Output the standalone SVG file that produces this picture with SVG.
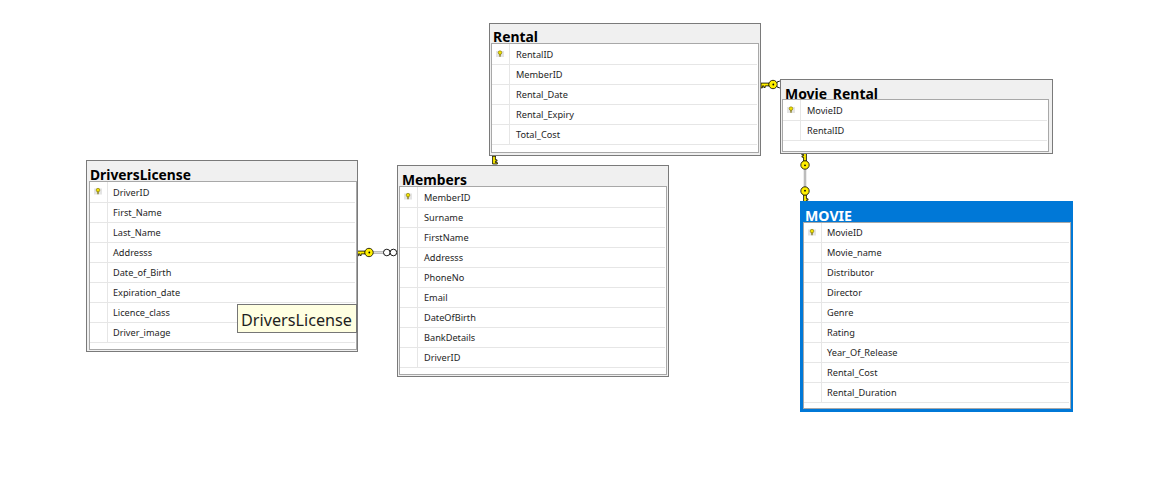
<svg xmlns="http://www.w3.org/2000/svg" width="1160" height="477" viewBox="0 0 1160 477">
<defs>
<style>
.outer{fill:#F0F0F0;stroke:#7A7A7A;stroke-width:1}
.inner{fill:#FFFFFF;stroke:#A8A8A8;stroke-width:1}
.sep{stroke:#E6E6E6;stroke-width:1}
.title{font-family:"Noto Sans","Open Sans",sans-serif;font-weight:bold;font-size:15px;fill:#000}
.col{font-family:"Noto Sans","Open Sans",sans-serif;font-size:9.2px;fill:#1E1E1E}
.pkbg{fill:#E4E4E4}
.pk{fill:#F2E200;stroke:#7A6E00;stroke-width:0.6}
.dbl{stroke:#A0A0A0;stroke-width:2.4;fill:none}
.dblc{stroke:#FFFFFF;stroke-width:0.6;fill:none}
.inf{fill:#FFFFFF;stroke:#000;stroke-width:0.9}
</style>
<g id="key">
<path d="M-3.8,-1.4 L-12,-1.4 L-12,3.4 L-10.6,3.4 L-10.6,1.4 L-9.2,1.4 L-9.2,3 L-7.8,3 L-7.8,1.4 L-3.8,1.4 Z" fill="#FFEF00" stroke="#000" stroke-width="0.8"/>
<circle cx="0" cy="0" r="4.2" fill="#FFEF00" stroke="#000" stroke-width="0.8"/>
<circle cx="0.3" cy="0" r="0.9" fill="#000"/>
</g>
<g id="pkicon">
<rect class="pkbg" x="-4" y="-3" width="8" height="6"/>
<line x1="0" y1="-0.5" x2="0" y2="2.8" stroke="#7A6E00" stroke-width="1.2"/>
<circle class="pk" cx="0" cy="-1.4" r="1.8"/>
</g>
</defs>

<g id="connectors">
<g id="c-dl-members">
<line class="dbl" x1="372" y1="252.5" x2="384" y2="252.5"/>
<line class="dblc" x1="372" y1="252.5" x2="384" y2="252.5"/>
<use href="#key" transform="translate(369,252.5)"/>
<circle class="inf" cx="386.8" cy="252.5" r="3.3"/>
<circle class="inf" cx="393.4" cy="252.5" r="3.3"/>
</g>
<g id="c-rental-members">
<use href="#key" transform="translate(494,152) rotate(-90)"/>
</g>
<g id="c-rental-movierental">
<circle class="inf" cx="779.5" cy="84.5" r="3.3"/>
<use href="#key" transform="translate(773,84.5)"/>
</g>
<g id="c-movierental-movie">
<line class="dbl" x1="805" y1="168" x2="805" y2="188"/>
<line class="dblc" x1="805" y1="168" x2="805" y2="188"/>
<use href="#key" transform="translate(805,165) rotate(90)"/>
<use href="#key" transform="translate(805,191) rotate(-90)"/>
</g>
</g>

<g id="DriversLicense">
<rect class="outer" x="86.5" y="160.5" width="271" height="191"/>
<text class="title" x="90" y="179.5" textLength="101" lengthAdjust="spacingAndGlyphs">DriversLicense</text>
<rect class="inner" x="89.5" y="181.5" width="267" height="168"/>
<line class="sep" x1="107.5" y1="182" x2="107.5" y2="342"/>
<g class="sep">
<line x1="90" y1="202.5" x2="355" y2="202.5"/><line x1="90" y1="222.5" x2="355" y2="222.5"/><line x1="90" y1="242.5" x2="355" y2="242.5"/><line x1="90" y1="262.5" x2="355" y2="262.5"/><line x1="90" y1="282.5" x2="355" y2="282.5"/><line x1="90" y1="302.5" x2="355" y2="302.5"/><line x1="90" y1="322.5" x2="355" y2="322.5"/><line x1="90" y1="342.5" x2="355" y2="342.5"/>
</g>
<use href="#pkicon" transform="translate(98,191.5)"/>
<text class="col" x="113" y="195.5">DriverID</text>
<text class="col" x="113" y="215.5">First_Name</text>
<text class="col" x="113" y="235.5">Last_Name</text>
<text class="col" x="113" y="255.5">Addresss</text>
<text class="col" x="113" y="275.5">Date_of_Birth</text>
<text class="col" x="113" y="295.5">Expiration_date</text>
<text class="col" x="113" y="315.5">Licence_class</text>
<text class="col" x="113" y="335.5">Driver_image</text>
</g>

<g id="tooltip">
<rect x="237.5" y="304.5" width="119" height="28" fill="#FFFFE1" stroke="#767676" stroke-width="1"/>
<text x="241" y="326" font-family="Noto Sans, Open Sans, sans-serif" font-size="17" fill="#1E1E1E" textLength="111" lengthAdjust="spacingAndGlyphs">DriversLicense</text>
</g>

<g id="Rental">
<rect class="outer" x="489.5" y="23.5" width="271" height="132"/>
<text class="title" x="493" y="42" textLength="45" lengthAdjust="spacingAndGlyphs">Rental</text>
<rect class="inner" x="491.5" y="43.5" width="267" height="109"/>
<line class="sep" x1="509.5" y1="44" x2="509.5" y2="144"/>
<g class="sep">
<line x1="492" y1="64.5" x2="757" y2="64.5"/><line x1="492" y1="84.5" x2="757" y2="84.5"/><line x1="492" y1="104.5" x2="757" y2="104.5"/><line x1="492" y1="124.5" x2="757" y2="124.5"/><line x1="492" y1="144.5" x2="757" y2="144.5"/>
</g>
<use href="#pkicon" transform="translate(500,54)"/>
<text class="col" x="516" y="58">RentalID</text>
<text class="col" x="516" y="78">MemberID</text>
<text class="col" x="516" y="98">Rental_Date</text>
<text class="col" x="516" y="118">Rental_Expiry</text>
<text class="col" x="516" y="138">Total_Cost</text>
</g>

<g id="Movie_Rental">
<rect class="outer" x="780.5" y="79.5" width="272" height="74"/>
<text class="title" x="785" y="98.5" textLength="93" lengthAdjust="spacingAndGlyphs">Movie_Rental</text>
<rect class="inner" x="782.5" y="99.5" width="266" height="52"/>
<line class="sep" x1="800.5" y1="100" x2="800.5" y2="140"/>
<g class="sep">
<line x1="783" y1="120.5" x2="1047" y2="120.5"/><line x1="783" y1="140.5" x2="1047" y2="140.5"/>
</g>
<use href="#pkicon" transform="translate(791,110)"/>
<text class="col" x="807" y="114">MovieID</text>
<text class="col" x="807" y="134">RentalID</text>
</g>

<g id="Members">
<rect class="outer" x="397.5" y="165.5" width="271" height="211"/>
<text class="title" x="402" y="184.5" textLength="65" lengthAdjust="spacingAndGlyphs">Members</text>
<rect class="inner" x="399.5" y="186.5" width="267" height="188"/>
<line class="sep" x1="417.5" y1="187" x2="417.5" y2="367"/>
<g class="sep">
<line x1="400" y1="207.5" x2="665" y2="207.5"/><line x1="400" y1="227.5" x2="665" y2="227.5"/><line x1="400" y1="247.5" x2="665" y2="247.5"/><line x1="400" y1="267.5" x2="665" y2="267.5"/><line x1="400" y1="287.5" x2="665" y2="287.5"/><line x1="400" y1="307.5" x2="665" y2="307.5"/><line x1="400" y1="327.5" x2="665" y2="327.5"/><line x1="400" y1="347.5" x2="665" y2="347.5"/><line x1="400" y1="367.5" x2="665" y2="367.5"/>
</g>
<use href="#pkicon" transform="translate(408,196.5)"/>
<text class="col" x="424" y="200.5">MemberID</text>
<text class="col" x="424" y="220.5">Surname</text>
<text class="col" x="424" y="240.5">FirstName</text>
<text class="col" x="424" y="260.5">Addresss</text>
<text class="col" x="424" y="280.5">PhoneNo</text>
<text class="col" x="424" y="300.5">Email</text>
<text class="col" x="424" y="320.5">DateOfBirth</text>
<text class="col" x="424" y="340.5">BankDetails</text>
<text class="col" x="424" y="360.5">DriverID</text>
</g>

<g id="MOVIE">
<rect x="801.5" y="202.5" width="270" height="208" fill="#0078D7" stroke="#0078D7" stroke-width="3"/>
<text class="title" x="805" y="220.5" textLength="47" lengthAdjust="spacingAndGlyphs" style="fill:#FFFFFF">MOVIE</text>
<rect class="inner" x="803.5" y="222.5" width="267" height="186"/>
<line class="sep" x1="821.5" y1="223" x2="821.5" y2="402"/>
<g class="sep">
<line x1="804" y1="242.5" x2="1069" y2="242.5"/><line x1="804" y1="262.5" x2="1069" y2="262.5"/><line x1="804" y1="282.5" x2="1069" y2="282.5"/><line x1="804" y1="302.5" x2="1069" y2="302.5"/><line x1="804" y1="322.5" x2="1069" y2="322.5"/><line x1="804" y1="342.5" x2="1069" y2="342.5"/><line x1="804" y1="362.5" x2="1069" y2="362.5"/><line x1="804" y1="382.5" x2="1069" y2="382.5"/><line x1="804" y1="402.5" x2="1069" y2="402.5"/>
</g>
<use href="#pkicon" transform="translate(812,232.5)"/>
<text class="col" x="827" y="236">MovieID</text>
<text class="col" x="827" y="256">Movie_name</text>
<text class="col" x="827" y="276">Distributor</text>
<text class="col" x="827" y="296">Director</text>
<text class="col" x="827" y="316">Genre</text>
<text class="col" x="827" y="336">Rating</text>
<text class="col" x="827" y="356">Year_Of_Release</text>
<text class="col" x="827" y="376">Rental_Cost</text>
<text class="col" x="827" y="396">Rental_Duration</text>
</g>
</svg>
